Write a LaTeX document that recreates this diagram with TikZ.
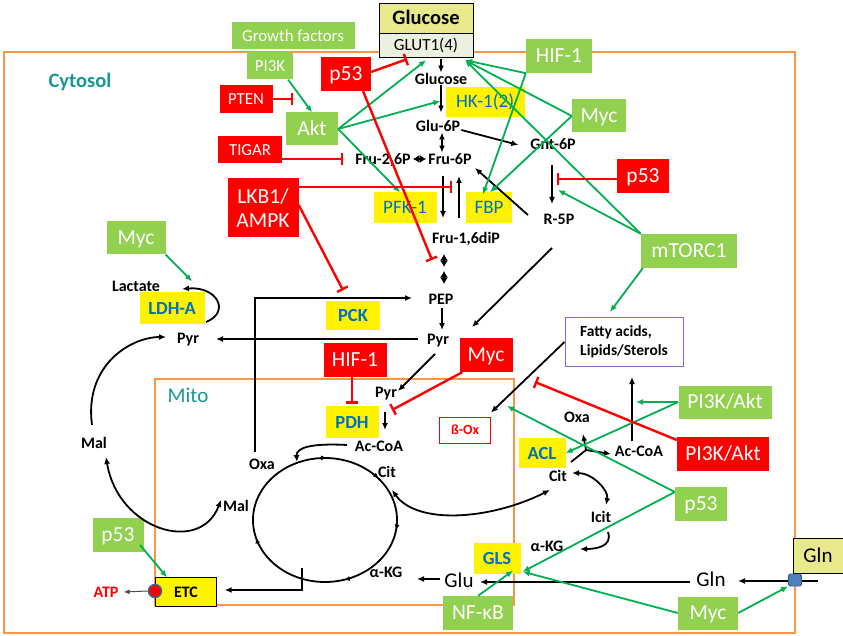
\documentclass[tikz,border=0pt]{standalone}
\usepackage{fontspec}
\setmainfont{Carlito}
\usepackage{tikz}
\usetikzlibrary{arrows.meta,decorations.markings}

\definecolor{boxgreen}{HTML}{92D050}
\definecolor{actgreen}{HTML}{00B050}
\definecolor{textblue}{HTML}{0070C0}
\definecolor{membrane}{HTML}{F79646}
\definecolor{compteal}{RGB}{25,150,150}
\definecolor{glcyellow}{RGB}{232,232,140}
\definecolor{glutpale}{HTML}{EBF1DE}
\definecolor{lipidpurple}{RGB}{150,100,200}
\definecolor{transblue}{HTML}{4F81BD}

\begin{document}
\begin{tikzpicture}[x=1pt,y=-1pt,
		sz/.style 2 args={minimum width=#1pt,minimum height=#2pt},
		met/.style={inner sep=1pt,text height=10.5pt,text depth=0pt,font=\bfseries\fontsize{16}{18}\selectfont},
		big/.style={inner sep=1pt,text height=13pt,text depth=0pt,font=\fontsize{21}{23}\selectfont},
		gbox/.style={fill=boxgreen,text=white,inner sep=0pt,text height=13.5pt,text depth=0pt,font=\fontsize{21.5}{24}\selectfont},
		gsmall/.style={gbox,text height=11pt,font=\fontsize{16.8}{20}\selectfont},
		rbox/.style={gbox,fill=red},
		rsmall/.style={gsmall,fill=red},
		ybox/.style={fill=yellow,text=textblue,inner sep=0pt,text height=12pt,text depth=0pt,font=\fontsize{19}{21}\selectfont},
		yboxb/.style={ybox,font=\bfseries\fontsize{18.5}{20}\selectfont},
		flow/.style={draw=black,line width=1.8pt,-{Latex[length=7pt,width=6pt]}},
		flowb/.style={flow,{Latex[length=7pt,width=6pt]}-{Latex[length=7pt,width=6pt]}},
		dia/.style={draw=black,line width=1.2pt,{Latex[length=6.5pt,width=8pt]}-{Latex[length=6.5pt,width=8pt]}},
		act/.style={draw=actgreen,line width=1.8pt,-{Latex[length=7pt,width=6pt]}},
		inh/.style={draw=red,line width=2.4pt,-{Bar[width=12pt]}},
		memb/.style={draw=membrane,line width=2.5pt},
		cmp/.style={text=compteal,inner sep=1pt,font=\fontsize{21}{24}\selectfont},
		tcac/.style={line width=1.8pt,postaction={decorate},decoration={markings,
			mark=at position 0.025 with {\arrow{Latex[length=6pt,width=5pt]}},
			mark=at position 0.205 with {\arrow{Latex[length=6pt,width=5pt]}},
			mark=at position 0.458 with {\arrow{Latex[length=6pt,width=5pt]}},
			mark=at position 0.755 with {\arrow{Latex[length=6pt,width=5pt]}},
			mark=at position 0.89 with {\arrow{Latex[length=6pt,width=5pt]}}}}
	]
		\useasboundingbox (0,0) rectangle (843,636);

		\draw[memb] (  4, 52) rectangle (795,633);
		\draw[memb] (155,379) rectangle (514,605);

		\coordinate (tca) at (325,520);
		\draw[tcac] ([shift={(72,0)}]tca) arc[start angle=0,end angle=-360,x radius=72pt,y radius=62pt];

		\node[cmp,font=\bfseries\fontsize{20.5}{24}\selectfont] (cyto) at ( 80, 82) {Cytosol};
		\node[cmp] (mito) at (188,395) {Mito};

		\node[draw=black,fill=glcyellow,sz={94}{30},inner sep=0pt,text height=13pt,text depth=0pt,font=\bfseries\fontsize{20.5}{24}\selectfont] (glcout) at (426, 18) {Glucose};
		\node[draw=black,fill=glutpale,sz={94}{24},inner sep=0pt,text height=10.5pt,text depth=0pt,font=\fontsize{17}{19}\selectfont] (glut) at (426, 45) {GLUT1(4)};
		\node[draw=black,fill=glcyellow,sz={50}{35},inner sep=0pt,text height=13pt,text depth=0pt,font=\fontsize{21}{23}\selectfont] (glnbox) at (818,556) {Gln};

		\node[gsmall,sz={123}{27}] (gf)    at (293, 36) {Growth factors};
		\node[gsmall,sz={46}{27}]  (pik)   at (270, 66) {PI3K};
		\node[rsmall,sz={53}{28}]  (pten)  at (246, 99) {PTEN};
		\node[rsmall,sz={64}{27}]  (tigar) at (250,150) {TIGAR};
		\node[rbox,sz={71}{59},align=center,text height={},text depth={}] (lkb) at (263,208) {LKB1/\\AMPK};
		\node[gbox,sz={52}{33}]    (akt)   at (312,129) {Akt};
		\node[rbox,sz={50}{34}]    (p53a)  at (346, 74) {p53};
		\node[gbox,sz={66}{34}]    (hifg)  at (559, 56) {HIF-1};
		\node[gbox,sz={54}{33}]    (mycg1) at (599,116) {Myc};
		\node[rbox,sz={52}{34}]    (p53b)  at (643,176) {p53};
		\node[gbox,sz={96}{34}]    (mtor)  at (689,251) {mTORC1};
		\node[gbox,sz={59}{33}]    (mycg2) at (136,238) {Myc};
		\node[gbox,sz={93}{33}]    (pi3kg) at (725,402) {PI3K/Akt};
		\node[rbox,sz={92}{34}]    (pi3kr) at (723,454) {PI3K/Akt};
		\node[gbox,sz={52}{34}]    (p53c)  at (701,504) {p53};
		\node[gbox,sz={60}{33}]    (mycg3) at (708,613) {Myc};
		\node[gbox,sz={70}{34}]    (nfkb)  at (478,613) {NF-κB};
		\node[gbox,sz={51}{34}]    (p53d)  at (118,535) {p53};
		\node[rbox,sz={63}{34}]    (hifr)  at (355,360) {HIF-1};
		\node[rbox,sz={53}{34}]    (mycr)  at (486,355) {Myc};

		\node[ybox,sz={79}{30}]  (hk)  at (485,102) {HK-1(2)};
		\node[ybox,sz={63}{31}]  (pfk) at (405,208) {PFK-1};
		\node[ybox,sz={46}{31}]  (fbp) at (489,208) {FBP};
		\node[yboxb,sz={65}{31}] (ldh) at (172,308) {LDH-A};
		\node[yboxb,sz={54}{29}] (pck) at (353,315) {PCK};
		\node[yboxb,sz={53}{32}] (pdh) at (352,422) {PDH};
		\node[yboxb,sz={47}{30}] (acl) at (542,453) {ACL};
		\node[yboxb,sz={47}{31}] (gls) at (497,558) {GLS};
		\node[draw=black,fill=yellow,sz={61}{29},inner sep=0pt,text height=10pt,text depth=0pt,font=\bfseries\fontsize{16}{18}\selectfont] (etc) at (186,592) {ETC};

		\node[draw=lipidpurple,line width=1pt,sz={118}{49},align=left,inner sep=0pt,font=\bfseries\fontsize{15.5}{19}\selectfont] (fa) at (624,342) {Fatty acids,\\Lipids/Sterols};
		\node[draw=red,line width=0.8pt,sz={51}{26},inner sep=0pt,text=red,text height=9pt,text depth=0pt,font=\bfseries\fontsize{14}{16}\selectfont] (betaox) at (465,430) {ß-Ox};

		\node[met] (glc)   at (441, 79) {Glucose};
		\node[met] (g6p)   at (438,126) {Glu-6P};
		\node[met] (f26p)  at (383,159) {Fru-2,6P};
		\node[met] (f6p)   at (450,159) {Fru-6P};
		\node[met] (gnt)   at (553,144) {Gnt-6P};
		\node[met] (r5p)   at (559,219) {R-5P};
		\node[met] (fbpm)  at (466,238) {Fru-1,6diP};
		\node[met] (pep)   at (441,299) {PEP};
		\node[met] (pyr)   at (438,339) {Pyr};
		\node[met] (lac)   at (136,286) {Lactate};
		\node[met] (pyrl)  at (188,338) {Pyr};
		\node[met] (mall)  at ( 94,443) {Mal};
		\node[met] (pyrm)  at (386,392) {Pyr};
		\node[met] (acoam) at (379,446) {Ac-CoA};
		\node[met] (oxam)  at (262,464) {Oxa};
		\node[met] (citm)  at (387,472) {Cit};
		\node[met] (malm)  at (236,506) {Mal};
		\node[met] (akgm)  at (386,572) {α-KG};
		\node[met] (oxac)  at (577,417) {Oxa};
		\node[met] (acoac) at (639,451) {Ac-CoA};
		\node[met] (citc)  at (558,476) {Cit};
		\node[met] (icit)  at (601,517) {Icit};
		\node[met] (akgc)  at (547,546) {α-KG};
		\node[big] (glu)   at (459,581) {Glu};
		\node[big] (gln)   at (711,580) {Gln};
		\node[met,text=red,font=\bfseries\fontsize{16}{18}\selectfont] (atp) at (106,592) {ATP};

		\draw[flow,shorten <=2pt] (glut.south -| glc.center) -- (glc.north);
		\draw[flow,shorten >=7pt] (glc.south) -- (glc.south |- g6p.north);
		\draw[flowb] ([shift={(4,0)}]g6p.south) -- ([shift={(4,0)}]g6p.south |- f6p.north);
		\draw[dia,shorten <=1pt,shorten >=1pt] (f26p.east) -- (f6p.west);
		\draw[flow,shorten >=8pt] ([shift={(0,4)}]g6p.east) -- ([shift={(-3,3)}]gnt.west);
		\draw[flow] ([shift={(-7,17)}]f6p.center) -- ([shift={(-23,-20)}]fbpm.center);
		\draw[flow] ([shift={(-7,-20)}]fbpm.center) -- ([shift={(9,17)}]f6p.center);
		\draw[flow] ([shift={(-31,-4)}]r5p.center) -- ([shift={(25,9)}]f6p.center);
		\draw[flow] ([shift={(-1,21)}]gnt.center) -- ([shift={(-7,-15)}]r5p.center);
		\draw[dia] ([shift={(-22,16)}]fbpm.center) -- ([shift={(-22,29)}]fbpm.center);
		\draw[dia] ([shift={(3,-28)}]pep.center) -- ([shift={(3,-15)}]pep.center);
		\draw[flow] ([shift={(1,9)}]pep.center) -- ([shift={(4,-9)}]pyr.center);
		\draw[flow] ([shift={(-7,-12)}]oxam.center) |- ([shift={(-29,-1)}]pep.center);
		\draw[flow] ([shift={(-20,0)}]pyr.center) -- ([shift={(28,1)}]pyrl.center);
		\draw[flow] ([shift={(-7,29)}]r5p.center) -- ([shift={(34,-12)}]pyr.center);
		\draw[flow] ([shift={(-3,15)}]pyr.center) -- ([shift={(12,-1)}]pyrm.center);
		\draw[flow] ([shift={(-1,20)}]pyrm.center) -- ([shift={(6,-16)}]acoam.center);
		\draw[flow] ([shift={(-32,-1)}]acoam.center) .. controls +(-37,-2) and +(-1,-14) .. ([shift={(-82,16)}]acoam.center);
		\draw[flowb] ([shift={(5,18)}]citm.center) .. controls +(25,35) and +(-60,30) .. ([shift={(-8,14)}]citc.center);
		\draw[flow] ([shift={(-19,-2)}]glu.center) -- ([shift={(31,7)}]akgm.center);
		\draw[flow] ([shift={(-21,2)}]gln.center) -- ([shift={(21,1)}]glu.center);
		\draw[flow] ([shift={(0,25)}]glnbox.center) -- ([shift={(27,1)}]gln.center);
		\draw[flow] ([shift={(-84,-4)}]akgm.center) |- ([shift={(8,-2)}]etc.east);
		\draw[flowb] ([shift={(12,14)}]mall.center) .. controls +(12,73) and +(-21,55) .. ([shift={(-15,-6)}]malm.center);
		\draw[flow] ([shift={(-2,-18)}]mall.center) .. controls +(-8,-60) and +(-35,0) .. ([shift={(-22,-1)}]pyrl.center);
		\draw[flow] ([shift={(18,-16)}]pyrl.center) .. controls +(25,-10) and +(35,-3) .. ([shift={(46,3)}]lac.center);
		\draw[flowb] ([shift={(14,-3)}]citc.center) .. controls +(20,0) and +(3,-15) .. ([shift={(5,-12)}]icit.center);
		\draw[flow] ([shift={(7,15)}]icit.center) .. controls +(5,15) and +(15,0) .. ([shift={(33,3)}]akgc.center);
		\coordinate (cbr) at (586,450);
		\draw[line width=1.8pt] ([shift={(13,-14)}]citc.center) -- (cbr);
		\draw[flow] (cbr) -- ([shift={(6,17)}]oxac.center);
		\draw[flow] (cbr) -- ([shift={(-28,3)}]acoac.center);
		\draw[flow] ([shift={(-7,-10)}]acoac.center) -- ([shift={(8,10)}]fa.south);
		\draw[flow] (fa.west) -- ([shift={(0,-4)}]betaox.north east);

		\draw[act] ([shift={(-5,0)}]pik.south east) -- (akt.north);
		\draw[act] (akt.east) -- ([shift={(0,3)}]glut.south);
		\draw[act] (akt.east) -- ([shift={(-5,-1)}]hk.west);
		\draw[act] (akt.east) -- ([shift={(-5,0)}]pfk.north);
		\draw[act] (hifg.south west) -- ([shift={(-8,3)}]glut.south east);
		\draw[act] (hifg.south west) -- ([shift={(-6,2)}]fbp.north);
		\draw[act] (mycg1.west) -- ([shift={(-8,3)}]glut.south east);
		\draw[act] (mycg1.west) -- ([shift={(1,0)}]fbp.north);
		\draw[act] (mtor.north west) -- ([shift={(-8,3)}]glut.south east);
		\draw[act] (mtor.north west) -- ([shift={(-1,-29)}]r5p.center);
		\draw[act] ([shift={(2,0)}]mtor.south west) -- ([shift={(-14,-5)}]fa.north);
		\draw[act] (mycg2.south east) -- ([shift={(20,-11)}]ldh.north);
		\draw[act] (pi3kg.west) -- ([shift={(-3,-49)}]acoac.center);
		\draw[act] (pi3kg.west) -- (acl.east);
		\draw[act] ([shift={(0,-12)}]p53c.west) -- ([shift={(42,-24)}]betaox.center);
		\draw[act] ([shift={(0,-12)}]p53c.west) -- ([shift={(2,-2)}]gls.south east);
		\draw[act] (mycg3.west) -- ([shift={(2,-2)}]gls.south east);
		\draw[act] (nfkb.north) -- ([shift={(16,-3)}]gls.south);
		\draw[act] ([shift={(22,10)}]p53d.center) -- ([shift={(-19,0)}]etc.north);

		\draw[inh] (pten.east) -- ([shift={(-19,-30)}]akt.center);
		\draw[inh] ([shift={(25,-2)}]p53a.center) -- ([shift={(-19,2)}]glut.south);
		\draw[inh] ([shift={(17,17)}]p53a.center) -- ([shift={(-34,22)}]fbpm.center);
		\draw[inh] ([shift={(0,9)}]tigar.east) -- ([shift={(-11,0)}]f26p.west);
		\draw[inh] ([shift={(0,-21)}]lkb.east) -- ([shift={(2,28)}]f6p.center);
		\draw[inh] ([shift={(0,-3)}]lkb.east) -- ([shift={(-10,-10)}]pck.north);
		\draw[inh] ([shift={(-3,0)}]hifr.south) -- ([shift={(0,-2)}]pdh.north);
		\draw[inh] ([shift={(3,0)}]mycr.south west) -- ([shift={(13,-36)}]acoam.center);
		\draw[inh] ([shift={(0,-14)}]pi3kr.west) -- ([shift={(70,-48)}]betaox.center);
		\draw[inh] ([shift={(0,3)}]p53b.west) -- ([shift={(-2,-40)}]r5p.center);

		\node[circle,fill=red,draw=transblue!80!black,line width=1.5pt,minimum size=13pt,inner sep=0pt] (dot) at (155,591) {};
		\draw[draw=black!70,line width=1pt,-{Latex[length=6pt,width=5pt]}] (dot.west) -- ([shift={(4,0)}]atp.east);
		\node[rounded corners=1.5pt,fill=transblue,draw=transblue!70!black,line width=0.8pt,sz={13}{12},inner sep=0pt] (glnt) at (795,580) {};
		\draw[act] (mycg3.east) -- (glnt.south west);
	\end{tikzpicture}
\end{document}
